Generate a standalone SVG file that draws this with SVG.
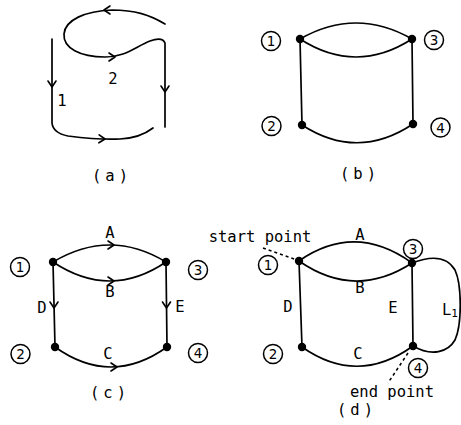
<svg xmlns="http://www.w3.org/2000/svg" width="461" height="425" viewBox="0 0 461 425">
<style>
.e{fill:none;stroke:#000;stroke-width:1.7;stroke-linecap:round;stroke-linejoin:round}
.d{fill:none;stroke:#000;stroke-width:1.5;stroke-dasharray:3,3}
.t{font-family:"DejaVu Sans Mono","Liberation Mono",monospace;font-size:15.5px;fill:#000;text-anchor:middle}
.n{font-family:"DejaVu Sans","Liberation Sans",sans-serif;font-size:13.5px;fill:#000;text-anchor:middle}
.c{fill:#fff;stroke:#000;stroke-width:1.5}
.dot{fill:#000}
</style>
<defs>
<path id="ah" d="M-6,-4 L0,0 L-6,4" fill="none" stroke="#000" stroke-width="1.6" stroke-linecap="round" stroke-linejoin="round"/>
</defs>
<rect width="461" height="425" fill="#fff"/>

<!-- connectors -->
<g id="connectors">
  <!-- panel a -->
  <path class="e" d="M52,39 L52,123 Q53,133 68,136 Q100,140 120,139 Q140,138 153,128"/>
  <path class="e" d="M165,127 L165,43 C163,38 158,38 150,41 C135,47 125,57 105,57 C80,57 63,48 64,34 C65,20 85,11 112,10 C135,10 150,15 165,24"/>
  <use href="#ah" transform="translate(52,87) rotate(90)"/>
  <use href="#ah" transform="translate(105,139) rotate(2)"/>
  <use href="#ah" transform="translate(165,92) rotate(90)"/>
  <use href="#ah" transform="translate(115,57) rotate(0)"/>
  <use href="#ah" transform="translate(104,10) rotate(180)"/>
  <!-- panel b -->
  <path class="e" d="M300,39 Q356,7 412,39 M300,39 Q356,75 412,39 M300,39 L302,125 M412,39 L413,124 M302,125 Q357.5,161 413,124"/>
  <!-- panel c -->
  <path class="e" d="M53,262 Q110,228 166,262 M53,262 Q110,300 166,262 M53,262 L55,347 M166,262 L167,347 M55,347 Q111,387 167,347"/>
  <use href="#ah" transform="translate(114,245) rotate(0)"/>
  <use href="#ah" transform="translate(114,281) rotate(0)"/>
  <use href="#ah" transform="translate(54,308) rotate(90)"/>
  <use href="#ah" transform="translate(166.5,308) rotate(90)"/>
  <use href="#ah" transform="translate(117,367) rotate(0)"/>
  <!-- panel d -->
  <path class="e" d="M299,261 Q355,222 412,263 M299,261 Q355,300 412,263 M299,261 L302,347 M412,263 L413,346 M302,347 Q357.5,386 413,346"/>
  <path class="e" d="M412,263 C425,258 445,253 455,270 C462,285 462,325 455,340 C448,352 432,357 413,346"/>
  <path class="d" d="M263,248 L297,260"/>
  <path class="d" d="M408,353 L388,383"/>
</g>

<!-- panel a labels -->
<g id="a-labels">
  <text class="t" x="62" y="106">1</text>
  <text class="t" x="113" y="84">2</text>
  <text class="t" x="112" y="181" letter-spacing="4">(a)</text>
</g>

<!-- panel b -->
<g id="b1"><circle class="dot" cx="300" cy="39" r="4.2"/><circle class="c" cx="271" cy="41" r="9.5"/><text class="n" x="271" y="46">1</text></g>
<g id="b3"><circle class="dot" cx="412" cy="39" r="4.2"/><circle class="c" cx="434" cy="40" r="9.5"/><text class="n" x="434" y="45">3</text></g>
<g id="b2"><circle class="dot" cx="302" cy="125" r="4.2"/><circle class="c" cx="271.5" cy="126" r="9.5"/><text class="n" x="271.5" y="131">2</text></g>
<g id="b4"><circle class="dot" cx="413" cy="124" r="4.2"/><circle class="c" cx="440.5" cy="127.5" r="9.5"/><text class="n" x="440.5" y="132.5">4</text></g>
<text class="t" x="360" y="179" letter-spacing="4">(b)</text>

<!-- panel c -->
<g id="c1"><circle class="dot" cx="53" cy="262" r="4.2"/><circle class="c" cx="20" cy="267" r="9.5"/><text class="n" x="20" y="272">1</text></g>
<g id="c3"><circle class="dot" cx="166" cy="262" r="4.2"/><circle class="c" cx="198" cy="270" r="9.5"/><text class="n" x="198" y="275">3</text></g>
<g id="c2"><circle class="dot" cx="55" cy="347" r="4.2"/><circle class="c" cx="20.5" cy="354" r="9.5"/><text class="n" x="20.5" y="359">2</text></g>
<g id="c4"><circle class="dot" cx="167" cy="347" r="4.2"/><circle class="c" cx="198" cy="353" r="9.5"/><text class="n" x="198" y="358">4</text></g>
<g id="c-labels">
  <text class="t" x="110" y="238">A</text>
  <text class="t" x="110" y="297">B</text>
  <text class="t" x="42" y="313">D</text>
  <text class="t" x="180" y="312">E</text>
  <text class="t" x="108" y="359">C</text>
  <text class="t" x="110" y="398" letter-spacing="4">(c)</text>
</g>

<!-- panel d -->
<g id="d1"><circle class="dot" cx="299" cy="261" r="4.2"/><circle class="c" cx="268" cy="265" r="9.5"/><text class="n" x="268" y="270">1</text></g>
<g id="d3"><circle class="dot" cx="412" cy="263" r="4.2"/><circle class="c" cx="413" cy="249" r="9.5"/><text class="n" x="413" y="254">3</text></g>
<g id="d2"><circle class="dot" cx="302" cy="347" r="4.2"/><circle class="c" cx="273" cy="354" r="9.5"/><text class="n" x="273" y="359">2</text></g>
<g id="d4"><circle class="dot" cx="413" cy="346" r="4.2"/><circle class="c" cx="418" cy="368" r="9.5"/><text class="n" x="418" y="373">4</text></g>
<g id="d-labels">
  <text class="t" x="260" y="242">start point</text>
  <text class="t" x="392" y="397">end point</text>
  <text class="t" x="360" y="240">A</text>
  <text class="t" x="360" y="293">B</text>
  <text class="t" x="288" y="312">D</text>
  <text class="t" x="393" y="313">E</text>
  <text class="t" x="450" y="315">L<tspan font-size="11" dy="2">1</tspan></text>
  <text class="t" x="358" y="359">C</text>
  <text class="t" x="357" y="415" letter-spacing="4">(d)</text>
</g>
</svg>
